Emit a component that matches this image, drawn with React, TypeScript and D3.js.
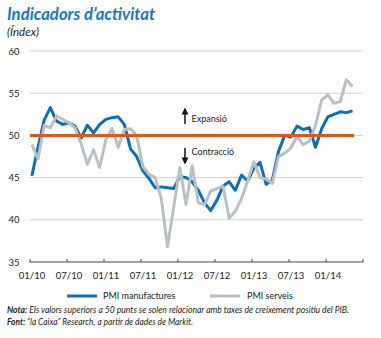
import React from "react";
import * as d3 from "d3";

const months = d3.range(53);
const manufactures = [
  45.2, 48.6, 51.8, 53.3, 51.7, 51.3, 51.5, 51.1, 49.7, 51.2,
  50.3, 51.3, 51.9, 52.1, 52.2, 51.3, 48.4, 47.5, 45.8, 44.9,
  43.8, 43.9, 43.8, 43.7, 45.1, 45.0, 44.5, 43.5, 42.0, 41.1,
  42.3, 44.0, 44.5, 43.5, 45.3, 44.6, 46.1, 46.8, 44.2, 44.7,
  48.1, 50.0, 49.8, 51.1, 50.7, 50.9, 48.6, 50.8, 52.2, 52.5,
  52.8, 52.7, 52.9,
];
const serveis = [
  48.9, 47.2, 51.2, 50.9, 52.3, 51.9, 51.5, 50.9, 49.0, 46.6,
  48.3, 46.2, 49.5, 50.8, 48.6, 50.7, 50.8, 50.0, 46.3, 45.4,
  45.0, 42.5, 36.8, 41.5, 46.2, 41.8, 46.4, 42.0, 41.8, 43.4,
  43.7, 44.0, 40.2, 41.0, 42.5, 44.6, 46.9, 45.0, 44.8, 44.3,
  47.5, 47.9, 48.5, 49.9, 48.9, 49.3, 51.2, 54.2, 54.8, 53.8,
  54.0, 56.6, 55.8,
];
const yTicks = [35, 40, 45, 50, 55, 60];
const xTickMonths = [0, 6, 12, 18, 24, 30, 36, 42, 48, 54];
const xTickLabels = ["01/10", "07/10", "01/11", "07/11", "01/12", "07/12", "01/13", "07/13", "01/14", ""];
const threshold = 50;

const BLUE = "#0b6fb6";
const GRAY = "#b7c0c5";
const ORANGE = "#e5531b";
const FONT = "Lato, 'Open Sans', sans-serif";

export default function App() {
  const x = d3.scaleLinear().domain([0, 54]).range([30, 363]);
  const xp = (i: number) => x(i + 0.3);
  const y = d3.scaleLinear().domain([35, 60]).range([262, 51]);
  const line = d3
    .line<number>()
    .x((_, i) => xp(i))
    .y((d) => y(d))
    .curve(d3.curveLinear);

  return (
    <svg
      width={381}
      height={338}
      style={{ position: "absolute", left: 0, top: 0, background: "#fff" }}
      fontFamily={FONT}
    >
      <text x={7} y={20} fontSize={16.5} fontWeight={700} fontStyle="italic" fill="#1479c2" textLength={148} lengthAdjust="spacingAndGlyphs">
        Indicadors d’activitat
      </text>
      <text x={7} y={36} fontSize={11.5} fontStyle="italic" fill="#222">
        (Índex)
      </text>

      {yTicks.map((t) => (
        <g key={t}>
          {t !== 35 && (
            <line x1={30} x2={363} y1={y(t)} y2={y(t)} stroke="#cfcfcf" strokeWidth={1} />
          )}
          <text x={19.5} y={y(t) + 3.5} fontSize={9.5} textAnchor="end" fill="#222">
            {t}
          </text>
        </g>
      ))}
      <line x1={29.5} x2={363} y1={y(35)} y2={y(35)} stroke="#444" strokeWidth={1} />
      {xTickMonths.map((m, k) => (
        <g key={m}>
          <line x1={x(m)} x2={x(m)} y1={y(35)} y2={y(35) - 3} stroke="#444" strokeWidth={1} />
          <text x={x(m) + 2} y={279} fontSize={9.5} textAnchor="middle" fill="#222">
            {xTickLabels[k]}
          </text>
        </g>
      ))}

      <path d={line(manufactures) || ""} fill="none" stroke={BLUE} strokeWidth={3} strokeLinejoin="round" />
      <path d={line(serveis) || ""} fill="none" stroke={GRAY} strokeWidth={3} strokeLinejoin="round" />
      <line x1={30} x2={354} y1={y(threshold)} y2={y(threshold)} stroke={ORANGE} strokeWidth={3} />

      <line x1={185} x2={185} y1={124} y2={113} stroke="#111" strokeWidth={1.5} />
      <path d="M181.6,114.5 L185,107.5 L188.4,114.5 Z" fill="#111" />
      <text x={191.5} y={122} fontSize={9} fill="#222">Expansió</text>
      <line x1={185} x2={185} y1={148} y2={159} stroke="#111" strokeWidth={1.5} />
      <path d="M181.6,157.5 L185,164.5 L188.4,157.5 Z" fill="#111" />
      <text x={191.5} y={155} fontSize={9} fill="#222">Contracció</text>

      <line x1={67} x2={97} y1={296} y2={296} stroke={BLUE} strokeWidth={3} />
      <text x={103} y={299} fontSize={9} fill="#222">PMI manufactures</text>
      <line x1={210} x2={240} y1={296} y2={296} stroke={GRAY} strokeWidth={3} />
      <text x={247} y={299} fontSize={9} fill="#222">PMI serveis</text>

      <text x={7} y={313} fontSize={8.8} fontStyle="italic" fill="#222" textLength={342} lengthAdjust="spacingAndGlyphs">
        <tspan fontWeight={700}>Nota:</tspan> Els valors superiors a 50 punts se solen relacionar amb taxes de creixement positiu del PIB.
      </text>
      <text x={7} y={325} fontSize={8.8} fontStyle="italic" fill="#222" textLength={186} lengthAdjust="spacingAndGlyphs">
        <tspan fontWeight={700}>Font:</tspan> “la Caixa” Research, a partir de dades de Markit.
      </text>
    </svg>
  );
}
